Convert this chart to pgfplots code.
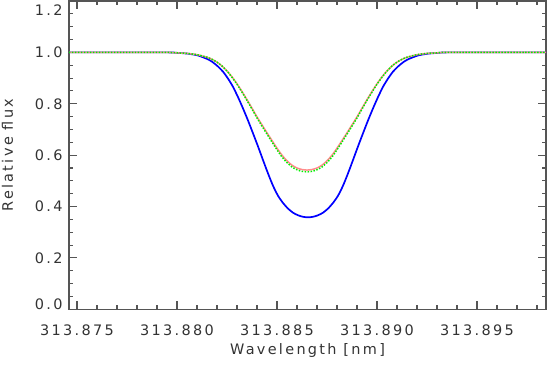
\documentclass[border=0pt]{standalone}
\usepackage{fontspec}
\setmainfont{DejaVu Sans}[LetterSpace=16]
\usepackage{pgfplots}
\pgfplotsset{compat=1.18}
\definecolor{axgray}{RGB}{85,85,85}
\definecolor{lred}{RGB}{255,140,140}
\definecolor{lgreen}{RGB}{0,240,0}
% x values: wavelength offset from 313.880 nm, in units of 0.001 nm
\begin{document}
\begin{tikzpicture}
\useasboundingbox (-69bp,-58.7bp) rectangle (479bp,309.3bp);
\begin{axis}[
  scale only axis,
  width=477bp, height=308.3bp,
  xmin=-5.4, xmax=18.45,
  ymin=0, ymax=1.2,
  axis line style={axgray, line width=1.1pt},
  every tick/.style={axgray, line width=1.1pt},
  tick align=inside,
  major tick length=8bp,
  minor tick length=4bp,
  xtick={-5,0,5,10,15},
  xticklabels={313.875,313.880,313.885,313.890,313.895},
  minor xtick={-4,-3,-2,-1,1,2,3,4,6,7,8,9,11,12,13,14,16,17,18},
  ytick={0,0.2,0.4,0.6,0.8,1.0,1.2},
  minor ytick={0.05,0.1,0.15,0.25,0.3,0.35,0.45,0.5,0.55,0.65,0.7,0.75,0.85,0.9,0.95,1.05,1.1,1.15},
  yticklabel style={/pgf/number format/fixed, /pgf/number format/fixed zerofill, /pgf/number format/precision=1},
  yticklabel={\ifnum\ticknum=0 \raisebox{5bp}[\height][\depth]{\axisdefaultticklabel}\else\ifnum\ticknum=6 \raisebox{-9bp}[\height][\depth]{\axisdefaultticklabel}\else\axisdefaultticklabel\fi\fi},
  /pgf/number format/assume math mode=true,
  ticklabel style={font=\fontsize{14.5}{17}\selectfont, text=black!80},
  xticklabel style={yshift=-12bp},
  yticklabel style={xshift=-3bp},
  label style={font=\fontsize{14.5}{17}\selectfont, text=black!80},
  xlabel={Wavelength [nm]},
  ylabel={Relative flux},
  xlabel style={yshift=-1bp},
  ylabel style={yshift=15bp},
  clip=true,
]
\addplot[blue, line width=1.7pt, smooth, tension=0.4] coordinates {
(-5.4,1.0) (-2.45,1.0) (-0.45,1.0) (0.05,0.998) (0.55,0.995) (1.05,0.988)
(1.55,0.973) (1.80,0.961) (2.05,0.945) (2.30,0.925) (2.55,0.898) (2.80,0.866)
(3.05,0.826) (3.30,0.782) (3.55,0.735) (3.80,0.685) (4.05,0.634) (4.30,0.581)
(4.55,0.529) (4.80,0.481) (5.05,0.442) (5.30,0.414) (5.55,0.392) (5.80,0.376)
(6.05,0.366) (6.30,0.360) (6.55,0.358) (6.80,0.360) (7.05,0.366) (7.30,0.376)
(7.55,0.392) (7.80,0.414) (8.05,0.442) (8.30,0.481) (8.55,0.529) (8.80,0.581)
(9.05,0.634) (9.30,0.685) (9.55,0.735) (9.80,0.782) (10.05,0.826) (10.30,0.866)
(10.55,0.898) (10.80,0.925) (11.05,0.945) (11.30,0.961) (11.55,0.973)
(12.05,0.988) (12.55,0.995) (13.05,0.998) (13.55,1.0) (16.55,1.0) (18.45,1.0)
};
\addplot[lred, line width=1.5pt, smooth, tension=0.4] coordinates {
(-5.4,1.0) (-2.5,1.0) (-0.5,1.0) (0.0,0.998) (0.5,0.996) (1.0,0.991)
(1.5,0.981) (1.75,0.973) (2.0,0.962) (2.25,0.947) (2.5,0.928) (2.75,0.905)
(3.0,0.878) (3.25,0.848) (3.5,0.816) (3.75,0.783) (4.0,0.749) (4.25,0.718)
(4.5,0.687) (4.75,0.657) (5.0,0.627) (5.25,0.600) (5.5,0.578) (5.75,0.561)
(6.0,0.550) (6.25,0.544) (6.5,0.542) (6.75,0.544) (7.0,0.550) (7.25,0.561)
(7.5,0.578) (7.75,0.600) (8.0,0.627) (8.25,0.657) (8.5,0.687) (8.75,0.718)
(9.0,0.749) (9.25,0.783) (9.5,0.816) (9.75,0.848) (10.0,0.878) (10.25,0.905)
(10.5,0.928) (10.75,0.947) (11.0,0.962) (11.25,0.973) (11.5,0.981)
(12.0,0.991) (12.5,0.996) (13.0,0.998) (13.5,1.0) (16.5,1.0) (18.45,1.0)
};
\addplot[lgreen, line width=1.5pt, dash pattern=on 1.5pt off 1.5pt, smooth, tension=0.4] coordinates {
(-5.4,1.0) (-2.5,1.0) (-0.5,1.0) (0.0,0.998) (0.5,0.996) (1.0,0.991)
(1.5,0.981) (1.75,0.973) (2.0,0.962) (2.25,0.947) (2.5,0.927) (2.75,0.903)
(3.0,0.876) (3.25,0.845) (3.5,0.813) (3.75,0.779) (4.0,0.745) (4.25,0.713)
(4.5,0.682) (4.75,0.651) (5.0,0.621) (5.25,0.593) (5.5,0.571) (5.75,0.554)
(6.0,0.543) (6.25,0.537) (6.5,0.535) (6.75,0.537) (7.0,0.543) (7.25,0.554)
(7.5,0.571) (7.75,0.593) (8.0,0.621) (8.25,0.651) (8.5,0.682) (8.75,0.713)
(9.0,0.745) (9.25,0.779) (9.5,0.813) (9.75,0.845) (10.0,0.876) (10.25,0.903)
(10.5,0.927) (10.75,0.947) (11.0,0.962) (11.25,0.973) (11.5,0.981)
(12.0,0.991) (12.5,0.996) (13.0,0.998) (13.5,1.0) (16.5,1.0) (18.45,1.0)
};
\end{axis}
\end{tikzpicture}
\end{document}
